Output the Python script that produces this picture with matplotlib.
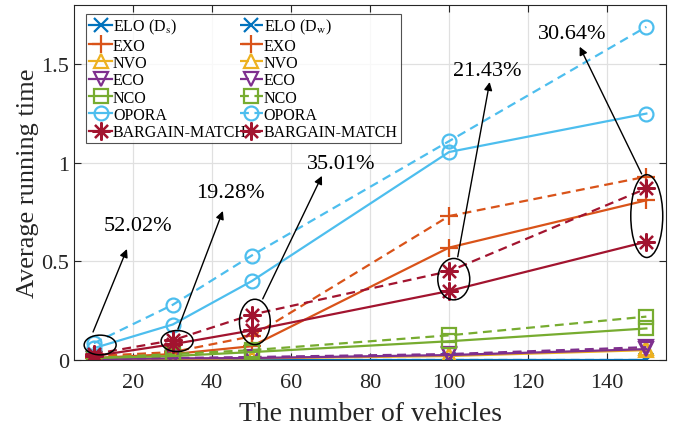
import matplotlib
matplotlib.use("Agg")
import matplotlib.pyplot as plt
from matplotlib.patches import Ellipse

plt.rcParams['font.family'] = ['Liberation Serif', 'DejaVu Serif']
plt.rcParams['mathtext.fontset'] = 'stix'

x = [10, 30, 50, 100, 150]

elo_s = [0.001, 0.001, 0.001, 0.001, 0.001]
elo_w = [0.002, 0.002, 0.002, 0.002, 0.002]
exo_s = [0.01, 0.03, 0.07, 0.57, 0.81]
exo_w = [0.02, 0.04, 0.12, 0.73, 0.93]
nvo_s = [0.003, 0.005, 0.008, 0.02, 0.05]
nvo_w = [0.004, 0.006, 0.01, 0.025, 0.06]
eco_s = [0.005, 0.008, 0.01, 0.025, 0.055]
eco_w = [0.006, 0.01, 0.015, 0.03, 0.065]
nco_s = [0.01, 0.02, 0.04, 0.095, 0.16]
nco_w = [0.01, 0.03, 0.05, 0.125, 0.22]
opora_s = [0.06, 0.18, 0.40, 1.055, 1.25]
opora_w = [0.085, 0.28, 0.53, 1.11, 1.69]
bm_s = [0.02, 0.08, 0.15, 0.35, 0.60]
bm_w = [0.03, 0.10, 0.23, 0.45, 0.87]

labels = ['ELO (D$_\\mathrm{s}$)', 'ELO (D$_\\mathrm{w}$)', 'EXO', 'NVO', 'ECO', 'NCO', 'OPORA', 'BARGAIN-MATCH']

percent_texts = ['52.02%', '19.28%', '35.01%', '21.43%', '30.64%']
# annotation geometry (data coords): ellipse center, width, height; arrow tail, head; text pos
ell_specs = [(11.6, 0.076, 8.1, 0.10), (31.1, 0.096, 8.1, 0.107), (50.8, 0.193, 7.8, 0.23),
             (101.2, 0.41, 8.1, 0.21), (150.1, 0.73, 8.1, 0.42)]
arrow_tails = [(9.8, 0.142), (31.3, 0.157), (52.8, 0.31), (102.2, 0.523), (148.8, 0.944)]
arrow_heads = [(18.4, 0.563), (42.7, 0.756), (67.8, 0.934), (110.3, 1.41), (133.1, 1.589)]
text_pos = [(21.2, 0.68), (44.5, 0.848), (72.8, 0.995), (109.8, 1.467), (131.1, 1.655)]

C_BLUE = '#0072BD'; C_OR = '#D95319'; C_YE = '#EDB120'; C_PU = '#7E2F8E'
C_GR = '#77AC30'; C_LB = '#4DBEEE'; C_RE = '#A2142F'

fig = plt.figure(figsize=(6.86, 4.27), dpi=100)
ax = fig.add_axes([0.108, 0.1546, 0.863, 0.831])

lw = 1.6
ms = 10
star = (8, 2, 0)
series = [
    (elo_s, elo_w, C_BLUE, 'x', labels[0], labels[1]),
    (exo_s, exo_w, C_OR, '+', labels[2], labels[2]),
    (nvo_s, nvo_w, C_YE, '^', labels[3], labels[3]),
    (eco_s, eco_w, C_PU, 'v', labels[4], labels[4]),
    (nco_s, nco_w, C_GR, 's', labels[5], labels[5]),
    (opora_s, opora_w, C_LB, 'o', labels[6], labels[6]),
    (bm_s, bm_w, C_RE, star, labels[7], labels[7]),
]
solid_handles = []
dashed_handles = []
for ys, yw, c, m, ls_, lw_ in series:
    msz = ms + 3 if m in ('+', star) else ms
    h1, = ax.plot(x, ys, '-', color=c, marker=m, markersize=msz, mfc='none', mew=1.6, lw=lw, label=ls_)
    h2, = ax.plot(x, yw, '--', color=c, marker=m, markersize=msz, mfc='none', mew=1.6, lw=lw, label=lw_,
                  dashes=(4, 2.5))
    solid_handles.append(h1)
    dashed_handles.append(h2)

for (cx, cy, w, h) in ell_specs:
    ax.add_patch(Ellipse((cx, cy), w, h, fill=False, ec='black', lw=1.1, zorder=5))
for t, hd, tp, s in zip(arrow_tails, arrow_heads, text_pos, percent_texts):
    ax.annotate('', xy=hd, xytext=t, arrowprops=dict(arrowstyle='-|>', color='black', lw=1.0,
                                                     mutation_scale=12, shrinkA=0, shrinkB=0))
    ax.text(tp[0], tp[1], s, ha='center', va='center', fontsize=16)

ax.set_xlim(5, 155)
ax.set_ylim(0, 1.8)
ax.set_xticks([20, 40, 60, 80, 100, 120, 140])
ax.set_yticks([0, 0.5, 1, 1.5])
ax.set_yticklabels(['0', '0.5', '1', '1.5'])
ax.tick_params(direction='in', top=True, right=True, labelsize=16, length=5, width=0.8, colors='#262626')
ax.tick_params(axis='x', pad=9.3)
ax.tick_params(labelcolor='#262626')
ax.grid(True, color='#e0e0e0', lw=0.9)
ax.set_axisbelow(True)
for sp in ax.spines.values():
    sp.set_color('#262626')
    sp.set_linewidth(0.8)
ax.set_xlabel('The number of vehicles', fontsize=20, color='#262626', labelpad=6.5)
ax.set_ylabel('Average running time', fontsize=19, color='#262626', labelpad=2)

handles = solid_handles + dashed_handles
leg = ax.legend(handles=handles, ncol=2, loc='upper left', fontsize=11.5, frameon=True, fancybox=False,
                edgecolor='#262626', handlelength=1.45, handletextpad=0.05, columnspacing=-0.45,
                labelspacing=0.08, borderpad=0.2, bbox_to_anchor=(0.02, 0.975), borderaxespad=0)
leg.get_frame().set_linewidth(0.8)

fig.savefig('out.png', dpi=100)
